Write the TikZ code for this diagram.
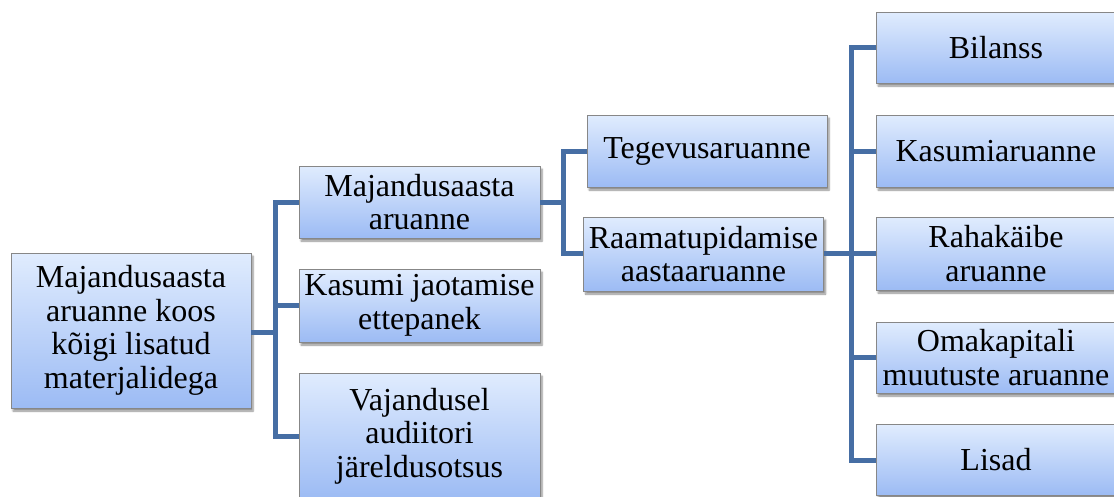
\documentclass[tikz,border=0pt]{standalone}
\usepackage{fontspec}
\setmainfont{Liberation Serif}
\usetikzlibrary{shadows.blur,calc}
\definecolor{linkc}{RGB}{70,110,164}
\definecolor{topc}{RGB}{224,236,254}
\definecolor{botc}{RGB}{156,187,244}
\definecolor{edgec}{RGB}{135,135,135}
\tikzset{
  boxnode/.style={draw=edgec, line width=0.9pt, top color=topc, bottom color=botc,
    inner sep=0pt, align=center, font=\fontsize{32}{33.5}\selectfont,
    minimum width=240pt, minimum height=72pt,
    blur shadow={shadow xshift=2pt, shadow yshift=-3pt, shadow blur steps=6, shadow opacity=45}},
  link/.style={draw=linkc, line width=5pt, line join=miter}
}
\begin{document}
\begin{tikzpicture}[x=1pt,y=-1pt]
\useasboundingbox (0,0) rectangle (1114,496);
\begin{scope}
\clip (0,0) rectangle (1114,496);
% nodes
\node[boxnode, minimum height=155pt] (root) at (131,330.5) {Majandusaasta\\aruanne koos\\kõigi lisatud\\materjalidega};
\node[boxnode, minimum width=241pt] (m1) at (419.5,202) {Majandusaasta\\aruanne};
\node[boxnode, minimum width=241pt, minimum height=73pt] (k1) at (419.5,305.5) {Kasumi jaotamise\\ettepanek};
\node[boxnode, minimum width=241pt, minimum height=126pt] (v1) at (419.5,436) {Vajandusel\\audiitori\\järeldusotsus};
\node[boxnode] (teg) at (707,151) {Tegevusaruanne};
\node[boxnode, minimum height=74pt] (raam) at (703.5,254) {Raamatupidamise\\aastaaruanne};
\node[boxnode, minimum height=71pt] (bil) at (996,47.5) {Bilanss};
\node[boxnode] (kas) at (996,151) {Kasumiaruanne};
\node[boxnode, minimum height=73pt] (rah) at (996,253.5) {Rahakäibe\\aruanne};
\node[boxnode, minimum height=71pt] (oma) at (996,357.5) {Omakapitali\\muutuste aruanne};
\node[boxnode, minimum height=71pt] (lis) at (996,460) {Lisad};
% connector joints
\coordinate (t1) at (275,332);
\coordinate (t2) at (563,202);
\coordinate (t3) at (851,253);
\draw[link] (root.east |- t1) -- (t1);
\draw[link] (t1) |- (m1.west);
\draw[link] (t1) |- (k1.west);
\draw[link] (t1) |- (v1.west);
\draw[link] (m1.east |- t2) -- (t2);
\draw[link] (t2) |- (teg.west);
\draw[link] (t2) |- ($(raam.west)+(0,-1)$);
\draw[link] ($(raam.east)+(0,-1)$) -- (t3);
\draw[link] (t3) |- (bil.west);
\draw[link] (t3) |- (kas.west);
\draw[link] (t3) |- (rah.west);
\draw[link] (t3) |- (oma.west);
\draw[link] (t3) |- (lis.west);
\end{scope}
\end{tikzpicture}
\end{document}
